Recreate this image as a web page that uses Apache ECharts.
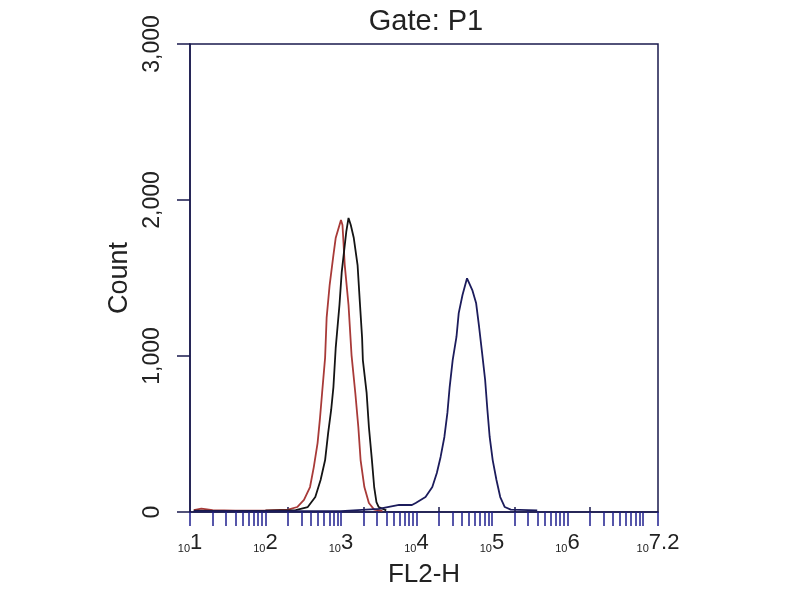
<!DOCTYPE html>
<html>
<head>
<meta charset="utf-8">
<script src="https://cdn.jsdelivr.net/npm/echarts@6/dist/echarts.min.js"></script>
<style>
html, body { margin: 0; padding: 0; background: #fff; }
#chart { width: 800px; height: 600px; }
</style>
</head>
<body>
<div id="chart"></div>
<script>
// x positions are log10(FL2-H), y is event count
var redCurve = [
	[1.05, 12], [1.15, 22], [1.3, 12], [1.6, 8], [2.0, 10], [2.3, 15],
	[2.42, 32], [2.51, 77], [2.59, 160], [2.64, 288], [2.69, 442], [2.72, 590],
	[2.75, 763], [2.79, 990], [2.81, 1244], [2.85, 1455], [2.9, 1647], [2.93, 1756],
	[3.0, 1872], [3.02, 1840], [3.03, 1756], [3.05, 1583], [3.1, 1327], [3.14, 1006],
	[3.19, 763], [3.23, 545], [3.26, 333], [3.31, 160], [3.37, 58], [3.44, 15], [3.55, 8]
];
var blackCurve = [
	[1.05, 8], [1.5, 6], [2.0, 8], [2.4, 12],
	[2.56, 32], [2.66, 96], [2.73, 205], [2.79, 333], [2.83, 506], [2.87, 654],
	[2.9, 801], [2.93, 1050], [2.98, 1327], [3.01, 1538], [3.07, 1795], [3.1, 1885],
	[3.13, 1840], [3.17, 1756], [3.22, 1583], [3.25, 1346], [3.28, 1115], [3.29, 974],
	[3.34, 763], [3.37, 545], [3.41, 333], [3.44, 160], [3.47, 64], [3.5, 32], [3.6, 10]
];
var blueCurve = [
	[1.05, 6], [2.0, 5], [3.0, 6], [3.5, 20],
	[3.77, 45], [3.94, 45], [3.99, 58], [4.12, 96], [4.21, 160], [4.27, 250],
	[4.32, 353], [4.37, 481], [4.41, 635], [4.44, 801], [4.48, 974], [4.53, 1122],
	[4.56, 1275], [4.61, 1391], [4.67, 1498], [4.74, 1423], [4.79, 1340], [4.83, 1186],
	[4.87, 1019], [4.91, 846], [4.94, 654], [4.97, 481], [5.01, 333], [5.06, 205],
	[5.11, 96], [5.17, 32], [5.25, 15], [5.6, 10]
];
var decades = [1, 2, 3, 4, 5, 6];
var xLabelValues = [1, 2, 3, 4, 5, 6, 7.2];
var longTickValues = [2.301, 3.301, 4.301, 5.301, 6.301];
var yTicks = [0, 1000, 2000, 3000];

var minorTicks = [];
decades.forEach(function (d) {
	for (var k = 1; k <= 9; k++) {
		minorTicks.push(d + Math.log10(k));
	}
});
minorTicks.push(7, 7.2);

var axisColor = '#1a1a4e';
var textColor = '#222';
var font = 'Liberation Sans, Arial, sans-serif';

var chart = echarts.init(document.getElementById('chart'));

var option = {
	animation: false,
	backgroundColor: '#fff',
	textStyle: { fontFamily: font },
	title: {
		text: 'Gate: P1',
		left: 421,
		textAlign: 'center',
		top: 2,
		textStyle: { fontSize: 29, fontWeight: 'normal', color: textColor, fontFamily: font }
	},
	grid: {
		left: 190,
		right: 142,
		top: 44,
		bottom: 88,
		show: true,
		borderColor: axisColor,
		borderWidth: 1.5
	},
	xAxis: [{
		type: 'value',
		min: 1,
		max: 7.2,
		name: 'FL2-H',
		nameLocation: 'middle',
		nameGap: 50,
		nameTextStyle: { fontSize: 26, color: textColor, fontFamily: font },
		axisLine: { show: true, lineStyle: { color: axisColor, width: 1.5 } },
		axisTick: {
			show: true,
			customValues: minorTicks,
			length: 14,
			lineStyle: { color: '#1f1f8f', width: 1.5 }
		},
		axisLabel: {
			customValues: xLabelValues,
			margin: 20,
			color: textColor,
			formatter: function (v) {
				var e = v === 7.2 ? '7.2' : String(Math.round(v));
				return '{a|10}{b|' + e + '}';
			},
			rich: {
				a: { fontSize: 11, color: textColor, verticalAlign: 'bottom', fontFamily: font },
				b: { fontSize: 22, color: textColor, verticalAlign: 'bottom', fontFamily: font }
			}
		},
		splitLine: { show: false }
	}, {
		// the slightly taller ticks at 2 x 10^n poke above the axis line
		type: 'value',
		min: 1,
		max: 7.2,
		position: 'bottom',
		axisLine: { show: false },
		axisLabel: { show: false },
		axisTick: {
			show: true,
			inside: true,
			customValues: longTickValues,
			length: 5,
			lineStyle: { color: axisColor, width: 1.5 }
		},
		splitLine: { show: false }
	}],
	yAxis: {
		type: 'value',
		min: 0,
		max: 3000,
		interval: 1000,
		name: 'Count',
		nameLocation: 'middle',
		nameRotate: 90,
		nameGap: 55,
		nameTextStyle: { fontSize: 27, color: textColor, fontFamily: font },
		axisLine: { show: true, lineStyle: { color: axisColor, width: 1.5 } },
		axisTick: { show: true, length: 13, lineStyle: { color: axisColor, width: 1.5 } },
		axisLabel: {
			rotate: 90,
			margin: 26,
			fontSize: 23,
			color: textColor,
			formatter: function (v) { return v.toLocaleString('en-US'); }
		},
		splitLine: { show: false }
	},
	series: [{
		name: 'red',
		type: 'line',
		xAxisIndex: 0,
		data: redCurve,
		symbol: 'none',
		lineStyle: { color: '#a83a38', width: 1.8 }
	}, {
		name: 'black',
		type: 'line',
		xAxisIndex: 0,
		data: blackCurve,
		symbol: 'none',
		lineStyle: { color: '#141414', width: 1.8 }
	}, {
		name: 'blue',
		type: 'line',
		xAxisIndex: 0,
		data: blueCurve,
		symbol: 'none',
		lineStyle: { color: '#1c1c5c', width: 1.8 }
	}]
};

chart.setOption(option);
</script>
</body>
</html>
